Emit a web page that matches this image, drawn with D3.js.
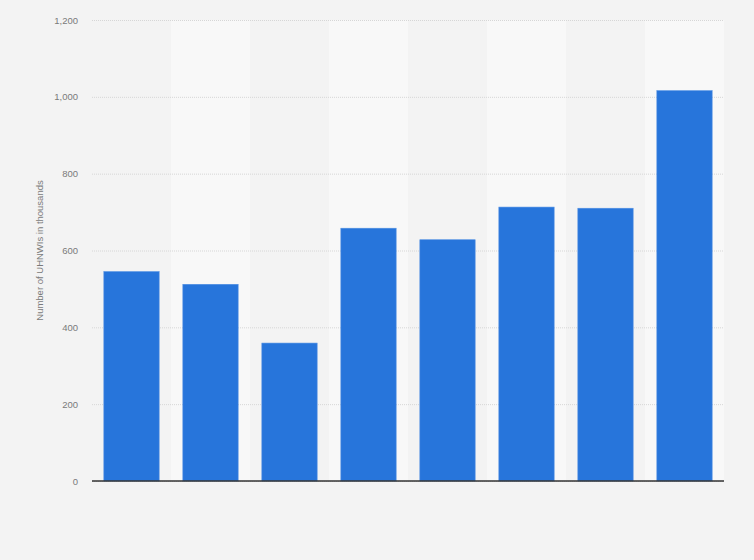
<!DOCTYPE html>
<html>
<head>
<meta charset="utf-8">
<script src="https://cdn.jsdelivr.net/npm/d3@7"></script>
<style>
  html, body { margin: 0; padding: 0; background: #f3f3f3; }
  #chart { width: 754px; height: 560px; }
  text { font-family: "Liberation Sans", Arial, sans-serif; }
</style>
</head>
<body>
<div id="chart"></div>
<script>
// the x axis carries no labels in the original, so categories are just indexes
const categories = ["1", "2", "3", "4", "5", "6", "7", "8"];
const uhnwis = [545, 512, 359, 658, 628, 713, 710, 1016];
const yTicks = [0, 200, 400, 600, 800, 1000, 1200];

const width = 754, height = 560;
const margin = { top: 20, right: 30, bottom: 79, left: 92 };
const innerW = width - margin.left - margin.right,
      innerH = height - margin.top - margin.bottom;

const svg = d3.select("#chart")
  .append("svg")
  .attr("width", width)
  .attr("height", height);

svg.append("rect")
  .attr("width", width)
  .attr("height", height)
  .attr("fill", "#f3f3f3");

const g = svg.append("g")
  .attr("transform", `translate(${margin.left},${margin.top})`);

const x = d3.scaleBand()
  .domain(categories)
  .range([0, innerW])
  .paddingInner(0.3)
  .paddingOuter(0.15);

const bandX = d3.scaleBand()
  .domain(categories)
  .range([0, innerW])
  .padding(0);

const y = d3.scaleLinear()
  .domain([0, 1200])
  .range([innerH, 0]);

// alternating column shading
g.selectAll(".stripe")
  .data(categories.filter((d, i) => i % 2 === 1))
  .enter()
  .append("rect")
  .attr("class", "stripe")
  .attr("x", d => bandX(d))
  .attr("y", 0)
  .attr("width", bandX.bandwidth())
  .attr("height", innerH)
  .attr("fill", "#f8f8f8");

// grid + tick labels
const yAxis = g.append("g")
  .call(d3.axisLeft(y).tickValues(yTicks).tickSize(-innerW).tickFormat(d3.format(",")).tickPadding(14));
yAxis.select(".domain").remove();
yAxis.selectAll(".tick line")
  .attr("stroke", "#d6d6d6")
  .attr("stroke-width", 1)
  .attr("stroke-dasharray", "1,1");
yAxis.selectAll(".tick text")
  .attr("fill", "#7a7a7a")
  .attr("font-size", "9.5px");

g.selectAll(".bar")
  .data(uhnwis)
  .enter()
  .append("rect")
  .attr("class", "bar")
  .attr("x", (d, i) => x(categories[i]))
  .attr("y", d => y(d))
  .attr("width", x.bandwidth())
  .attr("height", d => innerH - y(d))
  .attr("fill", "#2775db")
  .attr("stroke", "#4f8fe3")
  .attr("stroke-width", 0.6);

// baseline
g.append("line")
  .attr("x1", 0)
  .attr("x2", innerW)
  .attr("y1", y(0))
  .attr("y2", y(0))
  .attr("stroke", "#333")
  .attr("stroke-width", 1.3);

svg.append("text")
  .attr("transform", `translate(43,${margin.top + innerH / 2}) rotate(-90)`)
  .attr("text-anchor", "middle")
  .attr("fill", "#7a7a7a")
  .attr("font-size", "9.5px")
  .text("Number of UHNWIs in thousands");
</script>
</body>
</html>
